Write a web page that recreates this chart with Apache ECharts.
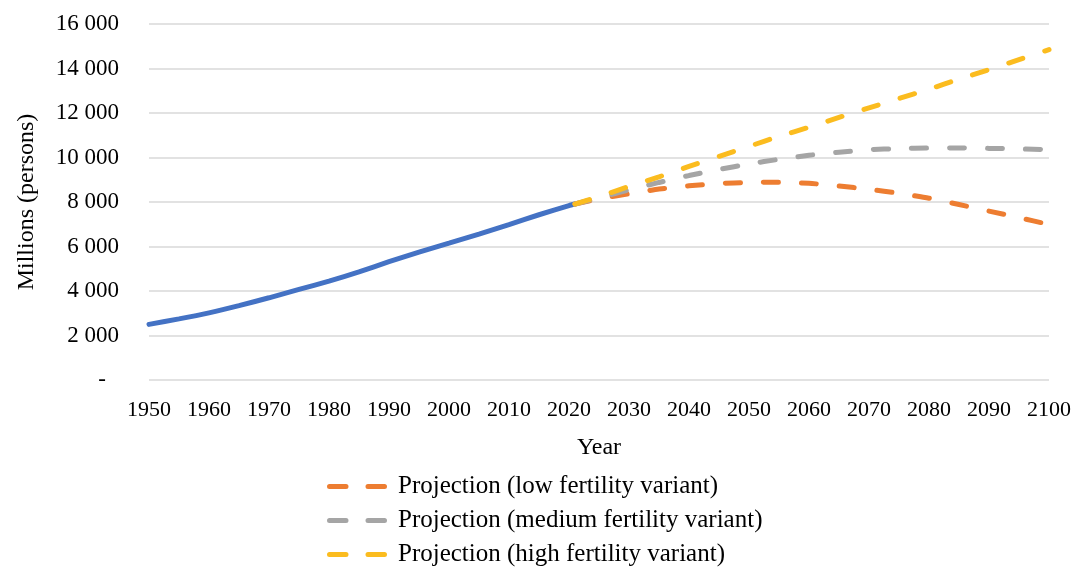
<!DOCTYPE html>
<html>
<head>
<meta charset="utf-8">
<script src="https://cdn.jsdelivr.net/npm/echarts@6/dist/echarts.min.js"></script>
<style>
  html, body { margin: 0; padding: 0; background: #fff; }
  #chart { width: 1075px; height: 567px; }
</style>
</head>
<body>
<div id="chart"></div>
<script>
// World population, millions of persons
const histYears = [1950, 1955, 1960, 1965, 1970, 1975, 1980, 1985, 1990, 1995, 2000, 2005, 2010, 2015, 2020, 2021];
const histValues = [2499, 2746, 3019, 3340, 3695, 4070, 4444, 4862, 5316, 5743, 6149, 6558, 6985, 7427, 7841, 7909];

const projYears = [2021, 2025, 2030, 2035, 2040, 2045, 2050, 2055, 2060, 2065, 2070, 2075, 2080, 2085, 2090, 2095, 2100];
const lowValues = [7909, 8140, 8370, 8580, 8730, 8830, 8880, 8890, 8840, 8720, 8570, 8390, 8170, 7890, 7590, 7300, 6990];
const mediumValues = [7909, 8192, 8546, 8879, 9188, 9462, 9709, 9920, 10099, 10240, 10350, 10400, 10425, 10431, 10410, 10385, 10349];
const highValues = [7909, 8240, 8700, 9130, 9600, 10050, 10500, 10950, 11360, 11800, 12230, 12650, 13070, 13520, 13950, 14400, 14850];

const seriesNames = [
  'Projection (low fertility variant)',
  'Projection (medium fertility variant)',
  'Projection (high fertility variant)'
];
const yTicks = [0, 2000, 4000, 6000, 8000, 10000, 12000, 14000, 16000];

const pair = (xs, ys) => xs.map((x, i) => [x, ys[i]]);
// thousands grouped with a space; zero shown as a dash
const fmt = v => v === 0 ? '{d|-}' : String(v).replace(/\B(?=(\d{3})+(?!\d))/g, ' ');

const serif = '"Liberation Serif", "Times New Roman", serif';
const dashed = color => ({ color: color, width: 5, type: [15, 23], cap: 'round' });
// legend key: two rounded dashes
const dashIcon = 'path://M2.5,0 H19 A2.5,2.5 0 0 1 19,5 H2.5 A2.5,2.5 0 0 1 2.5,0 Z ' +
                 'M41,0 H57.5 A2.5,2.5 0 0 1 57.5,5 H41 A2.5,2.5 0 0 1 41,0 Z';

const chart = echarts.init(document.getElementById('chart'));
chart.setOption({
  animation: false,
  textStyle: { fontFamily: serif, color: '#000' },
  grid: { left: 149, right: 26, top: 24, bottom: 187 },
  xAxis: {
    type: 'value', min: 1950, max: 2100, interval: 10,
    name: 'Year', nameLocation: 'middle', nameGap: 56,
    nameTextStyle: { fontFamily: serif, fontSize: 24, color: '#000' },
    axisLine: { show: false }, axisTick: { show: false }, splitLine: { show: false },
    axisLabel: { fontFamily: serif, fontSize: 22, color: '#000', margin: 19, formatter: v => String(v) }
  },
  yAxis: {
    type: 'value', min: yTicks[0], max: yTicks[yTicks.length - 1], interval: 2000,
    name: 'Millions (persons)', nameLocation: 'middle', nameGap: 110,
    nameTextStyle: { fontFamily: serif, fontSize: 24, color: '#000' },
    axisLine: { show: false }, axisTick: { show: false },
    splitLine: { lineStyle: { color: '#d9d9d9', width: 1.5 } },
    axisLabel: {
      fontFamily: serif, fontSize: 23, color: '#000', margin: 30,
      formatter: fmt,
      rich: { d: { fontFamily: serif, fontSize: 23, color: '#000', padding: [0, 13, 0, 0] } }
    }
  },
  legend: {
    data: seriesNames,
    orient: 'vertical', left: 327, top: 474, padding: 0,
    icon: dashIcon,
    itemWidth: 60, itemHeight: 5, itemGap: 9,
    textStyle: { fontFamily: serif, fontSize: 25, color: '#000', padding: [0, 0, 0, 6] }
  },
  series: [
    {
      name: 'Estimates', type: 'line', data: pair(histYears, histValues),
      symbol: 'none', smooth: 0.2, z: 3,
      lineStyle: { color: '#4472C4', width: 5, cap: 'round' }
    },
    {
      name: seriesNames[0], type: 'line', data: pair(projYears, lowValues),
      symbol: 'none', smooth: 0.2, z: 4,
      itemStyle: { color: '#ED7D31' }, lineStyle: dashed('#ED7D31')
    },
    {
      name: seriesNames[1], type: 'line', data: pair(projYears, mediumValues),
      symbol: 'none', smooth: 0.2, z: 5,
      itemStyle: { color: '#A5A5A5' }, lineStyle: dashed('#A5A5A5')
    },
    {
      name: seriesNames[2], type: 'line', data: pair(projYears, highValues),
      symbol: 'none', smooth: 0.2, z: 6,
      itemStyle: { color: '#FBBC1F' }, lineStyle: dashed('#FBBC1F')
    }
  ]
});
</script>
</body>
</html>
